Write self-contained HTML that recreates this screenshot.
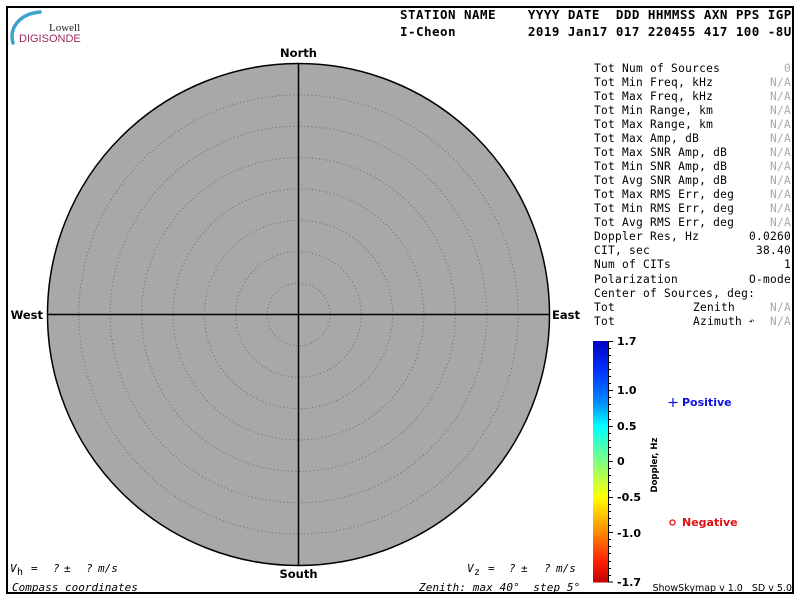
<!DOCTYPE html>
<html><head><meta charset="utf-8"><style>
html,body{margin:0;padding:0;background:#fff;}
svg{display:block;}
.hdr{font-family:"DejaVu Sans Mono","Liberation Mono",monospace;font-weight:bold;font-size:12.5px;letter-spacing:0.47px;fill:#000;}
.pn{font-family:"DejaVu Sans Mono","Liberation Mono",monospace;font-size:11.2px;letter-spacing:0.27px;fill:#000;}
.na{fill:#aaa;}
.cmp{font-family:"DejaVu Sans","Liberation Sans",sans-serif;font-weight:bold;font-size:11.5px;fill:#000;}
.cb{font-family:"DejaVu Sans","Liberation Sans",sans-serif;font-weight:bold;font-size:11px;fill:#000;}
.it{font-family:"DejaVu Sans Mono","Liberation Mono",monospace;font-style:italic;font-size:11px;fill:#000;}
</style></head><body>
<svg width="800" height="600" viewBox="0 0 800 600" xmlns="http://www.w3.org/2000/svg">
<defs>
<linearGradient id="dop" x1="0" y1="0" x2="0" y2="1">
<stop offset="0" stop-color="#0000c0"/>
<stop offset="0.118" stop-color="#0030ff"/>
<stop offset="0.206" stop-color="#0068ff"/>
<stop offset="0.265" stop-color="#0098ff"/>
<stop offset="0.353" stop-color="#00ffff"/>
<stop offset="0.426" stop-color="#40ffc0"/>
<stop offset="0.5" stop-color="#80ff80"/>
<stop offset="0.574" stop-color="#c0ff40"/>
<stop offset="0.647" stop-color="#ffff00"/>
<stop offset="0.794" stop-color="#ff8800"/>
<stop offset="0.912" stop-color="#ff2000"/>
<stop offset="1" stop-color="#c00000"/>
</linearGradient>
</defs>
<rect x="0" y="0" width="800" height="600" fill="#fff"/>
<rect x="7" y="7" width="786" height="586" fill="none" stroke="#000" stroke-width="2"/>

<!-- logo -->
<path d="M13 43 C9 28, 19 14, 40 12" fill="none" stroke="#3ba3cc" stroke-width="3.5" stroke-linecap="round"/>
<text x="49" y="31" font-family="Liberation Serif, serif" font-size="11" fill="#222">Lowell</text>
<text x="19" y="42" font-family="Liberation Sans, sans-serif" font-size="11" fill="#9c2a5e">DIGISONDE</text>

<!-- header -->
<text class="hdr" x="400" y="19" xml:space="preserve">STATION NAME    YYYY DATE  DDD HHMMSS AXN PPS IGP</text>
<text class="hdr" x="400" y="36" xml:space="preserve">I-Cheon         2019 Jan17 017 220455 417 100 -8U</text>

<!-- skymap -->
<circle cx="298.5" cy="314.5" r="251" fill="#a8a8a8" stroke="#000" stroke-width="1.5"/>
<g fill="none" stroke="#6a6a6a" stroke-width="1" stroke-dasharray="1 2.6">
<circle cx="298.5" cy="314.5" r="31.4"/>
<circle cx="298.5" cy="314.5" r="62.8"/>
<circle cx="298.5" cy="314.5" r="94.1"/>
<circle cx="298.5" cy="314.5" r="125.5"/>
<circle cx="298.5" cy="314.5" r="156.9"/>
<circle cx="298.5" cy="314.5" r="188.3"/>
<circle cx="298.5" cy="314.5" r="219.6"/>
</g>
<line x1="298.5" y1="63.5" x2="298.5" y2="565.5" stroke="#000" stroke-width="1.5"/>
<line x1="47.5" y1="314.5" x2="549.5" y2="314.5" stroke="#000" stroke-width="1.5"/>
<text class="cmp" x="298.5" y="57" text-anchor="middle">North</text>
<text class="cmp" x="298.5" y="578" text-anchor="middle">South</text>
<text class="cmp" x="43" y="319" text-anchor="end">West</text>
<text class="cmp" x="552" y="319">East</text>

<!-- right panel -->
<g class="pn">
<text x="594" y="72">Tot Num of Sources</text><text class="na" x="791" y="72" text-anchor="end">0</text>
<text x="594" y="86">Tot Min Freq, kHz</text><text class="na" x="791" y="86" text-anchor="end">N/A</text>
<text x="594" y="100">Tot Max Freq, kHz</text><text class="na" x="791" y="100" text-anchor="end">N/A</text>
<text x="594" y="114">Tot Min Range, km</text><text class="na" x="791" y="114" text-anchor="end">N/A</text>
<text x="594" y="128">Tot Max Range, km</text><text class="na" x="791" y="128" text-anchor="end">N/A</text>
<text x="594" y="142">Tot Max Amp, dB</text><text class="na" x="791" y="142" text-anchor="end">N/A</text>
<text x="594" y="156">Tot Max SNR Amp, dB</text><text class="na" x="791" y="156" text-anchor="end">N/A</text>
<text x="594" y="170">Tot Min SNR Amp, dB</text><text class="na" x="791" y="170" text-anchor="end">N/A</text>
<text x="594" y="184">Tot Avg SNR Amp, dB</text><text class="na" x="791" y="184" text-anchor="end">N/A</text>
<text x="594" y="198">Tot Max RMS Err, deg</text><text class="na" x="791" y="198" text-anchor="end">N/A</text>
<text x="594" y="212">Tot Min RMS Err, deg</text><text class="na" x="791" y="212" text-anchor="end">N/A</text>
<text x="594" y="226">Tot Avg RMS Err, deg</text><text class="na" x="791" y="226" text-anchor="end">N/A</text>
<text x="594" y="240">Doppler Res, Hz</text><text x="791" y="240" text-anchor="end">0.0260</text>
<text x="594" y="254">CIT, sec</text><text x="791" y="254" text-anchor="end">38.40</text>
<text x="594" y="268">Num of CITs</text><text x="791" y="268" text-anchor="end">1</text>
<text x="594" y="283">Polarization</text><text x="791" y="283" text-anchor="end">O-mode</text>
<text x="594" y="297">Center of Sources, deg:</text>
<text x="594" y="311">Tot</text><text x="693" y="311">Zenith</text><text class="na" x="791" y="311" text-anchor="end">N/A</text>
<text x="594" y="325">Tot</text><text x="693" y="325">Azimuth</text><text x="749" y="324" style="font-size:9px">↶</text><text class="na" x="791" y="325" text-anchor="end">N/A</text>
</g>

<!-- colorbar -->
<rect x="593" y="341" width="15" height="241.5" fill="url(#dop)"/>
<line x1="608.5" y1="341" x2="608.5" y2="582.5" stroke="#000" stroke-width="1"/>
<g stroke="#000" stroke-width="1">
<line x1="608" y1="341.5" x2="613" y2="341.5"/>
<line x1="608" y1="348.5" x2="611" y2="348.5"/>
<line x1="608" y1="355.5" x2="611" y2="355.5"/>
<line x1="608" y1="362.5" x2="611" y2="362.5"/>
<line x1="608" y1="369.5" x2="611" y2="369.5"/>
<line x1="608" y1="376.5" x2="611" y2="376.5"/>
<line x1="608" y1="383.5" x2="611" y2="383.5"/>
<line x1="608" y1="390.5" x2="613" y2="390.5"/>
<line x1="608" y1="397.5" x2="611" y2="397.5"/>
<line x1="608" y1="404.5" x2="611" y2="404.5"/>
<line x1="608" y1="411.5" x2="611" y2="411.5"/>
<line x1="608" y1="419.5" x2="611" y2="419.5"/>
<line x1="608" y1="426.5" x2="613" y2="426.5"/>
<line x1="608" y1="433.5" x2="611" y2="433.5"/>
<line x1="608" y1="440.5" x2="611" y2="440.5"/>
<line x1="608" y1="447.5" x2="611" y2="447.5"/>
<line x1="608" y1="454.5" x2="611" y2="454.5"/>
<line x1="608" y1="461.5" x2="613" y2="461.5"/>
<line x1="608" y1="468.5" x2="611" y2="468.5"/>
<line x1="608" y1="475.5" x2="611" y2="475.5"/>
<line x1="608" y1="482.5" x2="611" y2="482.5"/>
<line x1="608" y1="490.5" x2="611" y2="490.5"/>
<line x1="608" y1="497.5" x2="613" y2="497.5"/>
<line x1="608" y1="504.5" x2="611" y2="504.5"/>
<line x1="608" y1="511.5" x2="611" y2="511.5"/>
<line x1="608" y1="518.5" x2="611" y2="518.5"/>
<line x1="608" y1="525.5" x2="611" y2="525.5"/>
<line x1="608" y1="532.5" x2="613" y2="532.5"/>
<line x1="608" y1="539.5" x2="611" y2="539.5"/>
<line x1="608" y1="546.5" x2="611" y2="546.5"/>
<line x1="608" y1="553.5" x2="611" y2="553.5"/>
<line x1="608" y1="561.5" x2="611" y2="561.5"/>
<line x1="608" y1="568.5" x2="611" y2="568.5"/>
<line x1="608" y1="575.5" x2="611" y2="575.5"/>
<line x1="608" y1="582" x2="613" y2="582"/>
</g>
<g class="cb">
<text x="617" y="345">1.7</text>
<text x="617" y="394">1.0</text>
<text x="617" y="430">0.5</text>
<text x="617" y="465">0</text>
<text x="617" y="501">-0.5</text>
<text x="617" y="537">-1.0</text>
<text x="617" y="586">-1.7</text>
</g>
<text class="cb" style="font-size:8.5px" transform="translate(657,465) rotate(-90)" text-anchor="middle">Doppler, Hz</text>

<!-- legend -->
<g stroke="#1010e0" stroke-width="1.2"><line x1="668.5" y1="402.5" x2="677.5" y2="402.5"/><line x1="673" y1="398" x2="673" y2="407"/></g>
<text class="cb" x="682" y="406" style="fill:#1010e0">Positive</text>
<circle cx="672.5" cy="522.5" r="2.5" fill="none" stroke="#e01010" stroke-width="1.3"/>
<text class="cb" x="682" y="526" style="fill:#e01010">Negative</text>

<!-- bottom -->
<text class="it" x="10" y="572">V</text><text class="it" x="17" y="575" style="font-size:10px;font-style:normal">h</text>
<text class="it" x="31" y="572">=</text><text class="it" x="53" y="572">?</text><text class="it" x="64" y="572">±</text><text class="it" x="86" y="572">?</text><text class="it" x="98" y="572">m/s</text>
<text class="it" x="12" y="591">Compass coordinates</text>
<text class="it" x="467" y="572">V</text><text class="it" x="474" y="575" style="font-size:10px;font-style:normal">z</text>
<text class="it" x="488" y="572">=</text><text class="it" x="509" y="572">?</text><text class="it" x="521" y="572">±</text><text class="it" x="544" y="572">?</text><text class="it" x="556" y="572">m/s</text>
<text class="it" x="419" y="591" xml:space="preserve" letter-spacing="0.1">Zenith: max 40°  step 5°</text>
<text x="792" y="591" text-anchor="end" font-family="DejaVu Sans, Liberation Sans, sans-serif" font-size="9.5" fill="#000" xml:space="preserve">ShowSkymap v 1.0   SD v 5.0</text>
</svg>
</body></html>
